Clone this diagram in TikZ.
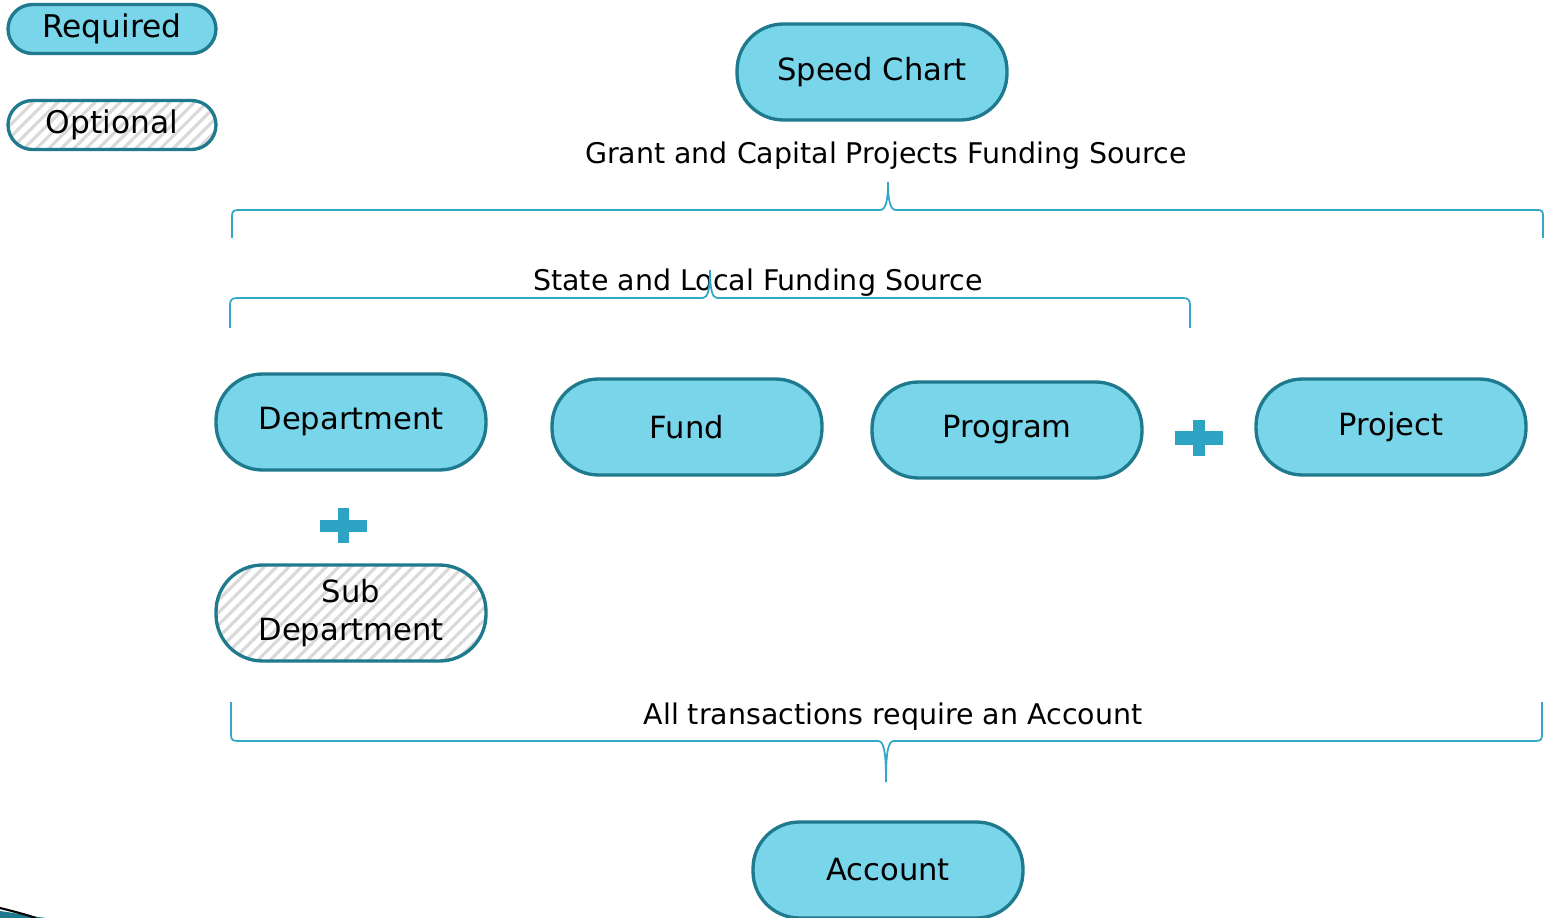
\documentclass[tikz,border=0pt]{standalone}
\usepackage{fontspec}
\setmainfont{DejaVu Sans}
\usetikzlibrary{patterns.meta}
\definecolor{boxfill}{HTML}{78D5EA}
\definecolor{boxline}{HTML}{1F7A8E}
\definecolor{bracecol}{HTML}{33A7C6}
\definecolor{pluscol}{HTML}{2EA4C4}
\tikzset{
  block/.style={draw=boxline, line width=1.9pt, rounded corners=0.93cm,
    minimum width=5.4cm, minimum height=1.92cm, align=center,
    font=\fontsize{17.4}{21.5}\selectfont},
  required/.style={block, fill=boxfill},
  optional/.style={block, pattern={Lines[angle=45,distance=5pt,line width=1.8pt]},
    pattern color=black!15},
  key/.style={minimum width=4.16cm, minimum height=0.98cm, rounded corners=0.49cm,
    font=\fontsize{17.8}{20}\selectfont},
  caption/.style={font=\fontsize{16.2}{19}\selectfont},
  brace/.style={draw=bracecol, line width=1pt},
}
\begin{document}
\begin{tikzpicture}[x=0.02cm,y=-0.02cm]
		\useasboundingbox (0,0) rectangle (1544,918);
		% legend
		\node[required,key] (req) at (112,29) {Required};
		\node[optional,key] (opt) at (112,125) {Optional};
		% chart fields
		\node[required] (speed) at (872,72) {Speed Chart};
		\node[required] (dept) at (351,422) {Department};
		\node[required] (fund) at (687,427) {Fund};
		\node[required] (prog) at (1007,430) {Program};
		\node[required] (proj) at (1391,427) {Project};
		\node[optional] (subdept) at (351,613) {Sub\\Department};
		\node[required] (acct) at (888,870) {Account};
		% captions
		\node[caption] (grant) at (886,156) {Grant and Capital Projects Funding Source};
		\node[caption] (state) at (758,283) {State and Local Funding Source};
		\node[caption] (all) at (893,717) {All transactions require an Account};
		% braces
		\draw[brace] (232,238) -- (232,216) .. controls (232,211) and (234,210) .. (239,210)
			-- (880,210) .. controls (886,210) and (888,200) .. (888,182)
			.. controls (888,200) and (890,210) .. (896,210) -- (1537,210)
			.. controls (1542,210) and (1543,211) .. (1543,216) -- (1543,238);
		\draw[brace] (230,328) -- (230,305) .. controls (230,300) and (232,298) .. (237,298)
			-- (703,298) .. controls (708,298) and (710,288) .. (710,270)
			.. controls (710,288) and (712,298) .. (717,298) -- (1183,298)
			.. controls (1188,298) and (1190,300) .. (1190,305) -- (1190,328);
		\draw[brace] (231,702) -- (231,735) .. controls (231,740) and (233,741) .. (238,741)
			-- (878,741) .. controls (884,741) and (886,752) .. (886,782)
			.. controls (886,752) and (888,741) .. (894,741) -- (1535,741)
			.. controls (1540,741) and (1542,740) .. (1542,735) -- (1542,702);
		% plus signs
		\fill[pluscol] (1175,431) rectangle (1223,445);
		\fill[pluscol] (1193,420) rectangle (1205,456);
		\fill[pluscol] (320,520) rectangle (367,532);
		\fill[pluscol] (338,508) rectangle (349,543);
		% corner swoosh
		\fill[boxline] (0,911) .. controls (15,913) and (30,916) .. (46,918) -- (0,918) -- cycle;
		\draw[black, line width=1.2pt] (0,908) .. controls (12,911) and (24,914) .. (36,918);
\end{tikzpicture}
\end{document}
